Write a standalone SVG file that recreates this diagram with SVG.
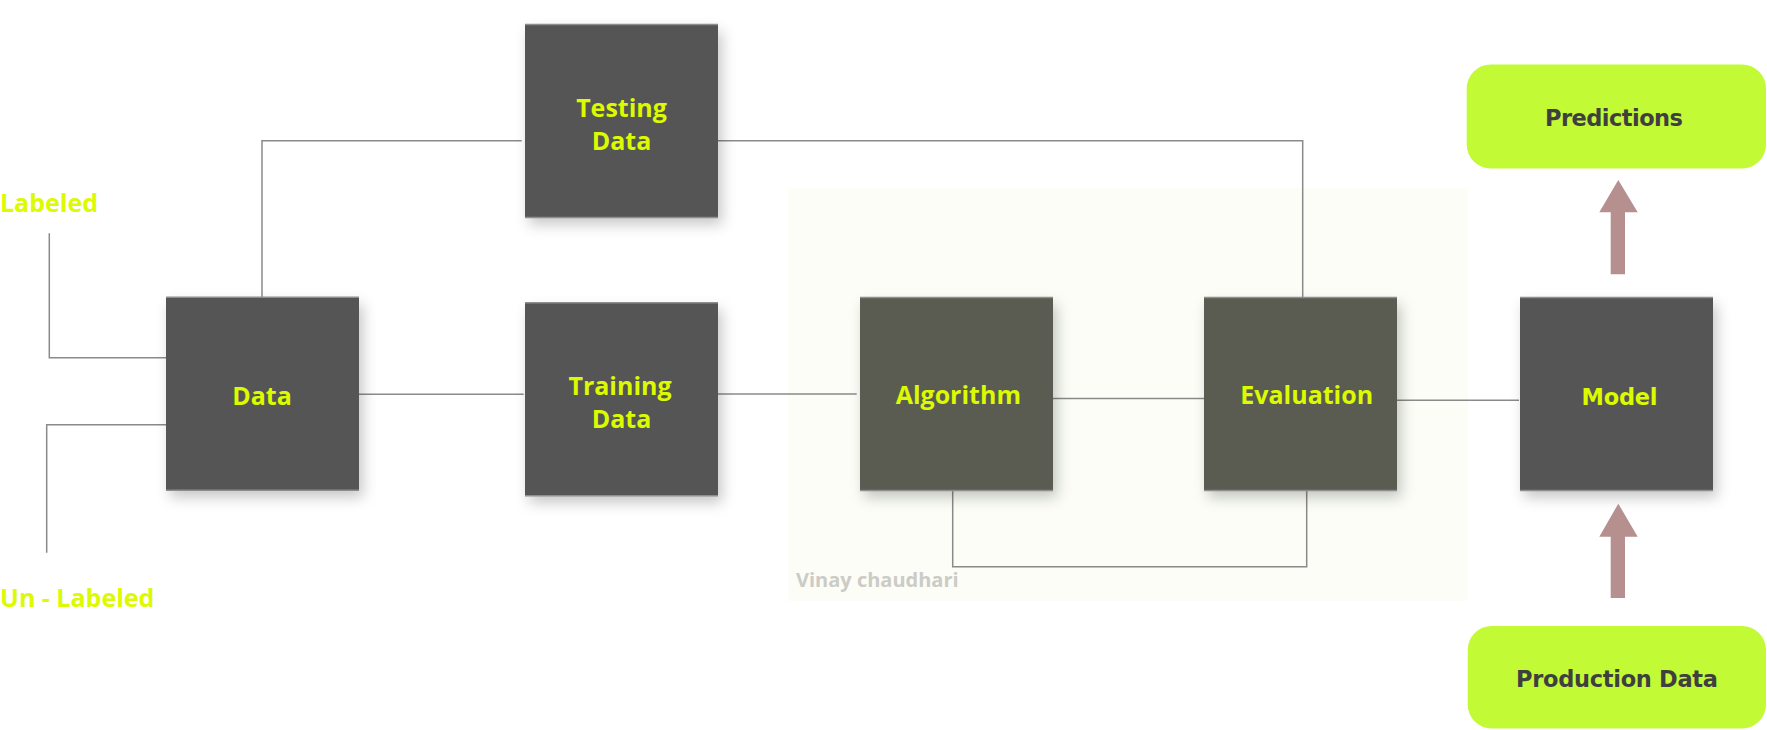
<svg xmlns="http://www.w3.org/2000/svg" width="1767" height="730" viewBox="0 0 1767 730">
<style>
.box{fill:#545454}
.box2{fill:#5a5c51}
.edge{stroke:#8e8e8e;stroke-width:1.5}
.lbl{font-family:"Open Sans","Liberation Sans",sans-serif;font-weight:bold;font-size:25px;fill:#dcfa00;text-anchor:middle}
.side{font-family:"Open Sans","Liberation Sans",sans-serif;font-weight:bold;font-size:25px;fill:#dcfa00}
.dv{font-family:"DejaVu Sans",sans-serif;font-weight:bold;font-size:22.5px;text-anchor:middle}
.conn{fill:none;stroke:#8a8a8a;stroke-width:1.5}
.pill{fill:#c3fa36}
.arr{fill:#b68f8f}
</style>
<defs>
<filter id="sh" x="-20%" y="-20%" width="150%" height="150%">
<feDropShadow dx="4" dy="7" stdDeviation="7" flood-color="#000" flood-opacity="0.22"/>
</filter>
</defs>
<rect width="1767" height="730" fill="#ffffff"/>
<g id="panel">
<rect x="787.7" y="187.7" width="680" height="413" fill="#fbfdf6"/>
<text x="796" y="587.3" font-family="'Open Sans','Liberation Sans',sans-serif" font-weight="bold" font-size="20" fill="#cccbc6">Vinay chaudhari</text>
</g>
<g id="connectors">
<polyline class="conn" points="49.3,233.3 49.3,357.7 166,357.7"/>
<polyline class="conn" points="166,424.7 46.7,424.7 46.7,552.7"/>
<polyline class="conn" points="262,297.3 262,140.7 521.7,140.7"/>
<polyline class="conn" points="718,140.7 1302.7,140.7 1302.7,297.7"/>
<line class="conn" x1="359" y1="394.3" x2="523.7" y2="394.3"/>
<line class="conn" x1="718" y1="394" x2="856.7" y2="394" stroke="#aaaaaa"/>
<line class="conn" x1="1053" y1="398.5" x2="1204" y2="398.5"/>
<line class="conn" x1="1397" y1="400.3" x2="1519" y2="400.3"/>
<polyline class="conn" points="952.7,490 952.7,566.7 1306.7,566.7 1306.7,490"/>
</g>
<g id="labeled"><text class="side" x="0" y="211.7">Labeled</text></g>
<g id="unlabeled"><text class="side" x="0" y="607.3">Un - Labeled</text></g>
<g id="data">
<rect class="box" x="166" y="297.3" width="193" height="193" filter="url(#sh)"/>
<line class="edge" x1="166" y1="297.3" x2="359" y2="297.3"/><line class="edge" x1="166" y1="490.3" x2="359" y2="490.3"/>
<text class="lbl" x="262" y="405">Data</text>
</g>
<g id="testing">
<rect class="box" x="525" y="24.5" width="193" height="193" filter="url(#sh)"/>
<line class="edge" x1="525" y1="24.5" x2="718" y2="24.5"/><line class="edge" x1="525" y1="217.5" x2="718" y2="217.5"/>
<text class="lbl" x="621.5" y="116.7">Testing</text>
<text class="lbl" x="621.5" y="150">Data</text>
</g>
<g id="training">
<rect class="box" x="525" y="302.7" width="193" height="193" filter="url(#sh)"/>
<line class="edge" x1="525" y1="302.7" x2="718" y2="302.7"/><line class="edge" x1="525" y1="495.7" x2="718" y2="495.7"/>
<text class="lbl" x="620" y="395">Training</text>
<text class="lbl" x="621.5" y="427.7">Data</text>
</g>
<g id="algorithm">
<rect class="box2" x="860" y="297.5" width="193" height="193" filter="url(#sh)"/>
<line class="edge" x1="860" y1="297.5" x2="1053" y2="297.5"/><line class="edge" x1="860" y1="490.5" x2="1053" y2="490.5"/>
<text class="lbl" x="958.3" y="404.3">Algorithm</text>
</g>
<g id="evaluation">
<rect class="box2" x="1204" y="297.5" width="193" height="193" filter="url(#sh)"/>
<line class="edge" x1="1204" y1="297.5" x2="1397" y2="297.5"/><line class="edge" x1="1204" y1="490.5" x2="1397" y2="490.5"/>
<text class="lbl" x="1306.7" y="404.3">Evaluation</text>
</g>
<g id="model">
<rect class="box" x="1520" y="297.5" width="193" height="193" filter="url(#sh)"/>
<line class="edge" x1="1520" y1="297.5" x2="1713" y2="297.5"/><line class="edge" x1="1520" y1="490.5" x2="1713" y2="490.5"/>
<text class="dv" x="1619.5" y="404.5" fill="#dcfa00" textLength="76" lengthAdjust="spacing">Model</text>
</g>
<g id="predictions">
<rect class="pill" x="1466.7" y="64.5" width="299.3" height="104" rx="24" ry="24"/>
<text class="dv" x="1614" y="126" fill="#3f3f3f" textLength="138" lengthAdjust="spacing">Predictions</text>
</g>
<g id="production">
<rect class="pill" x="1467.7" y="626" width="298.3" height="102.5" rx="24" ry="24"/>
<text class="dv" x="1617" y="687.3" fill="#3f3f3f" textLength="202" lengthAdjust="spacing">Production Data</text>
</g>
<g id="arrows">
<polygon class="arr" points="1618.3,180 1637.7,212.2 1625,212.2 1625,274.3 1610.7,274.3 1610.7,212.2 1599.3,212.2"/>
<polygon class="arr" points="1618.3,503.7 1637.7,536.7 1625,536.7 1625,597.9 1610.7,597.9 1610.7,536.7 1599.3,536.7"/>
</g>
</svg>
